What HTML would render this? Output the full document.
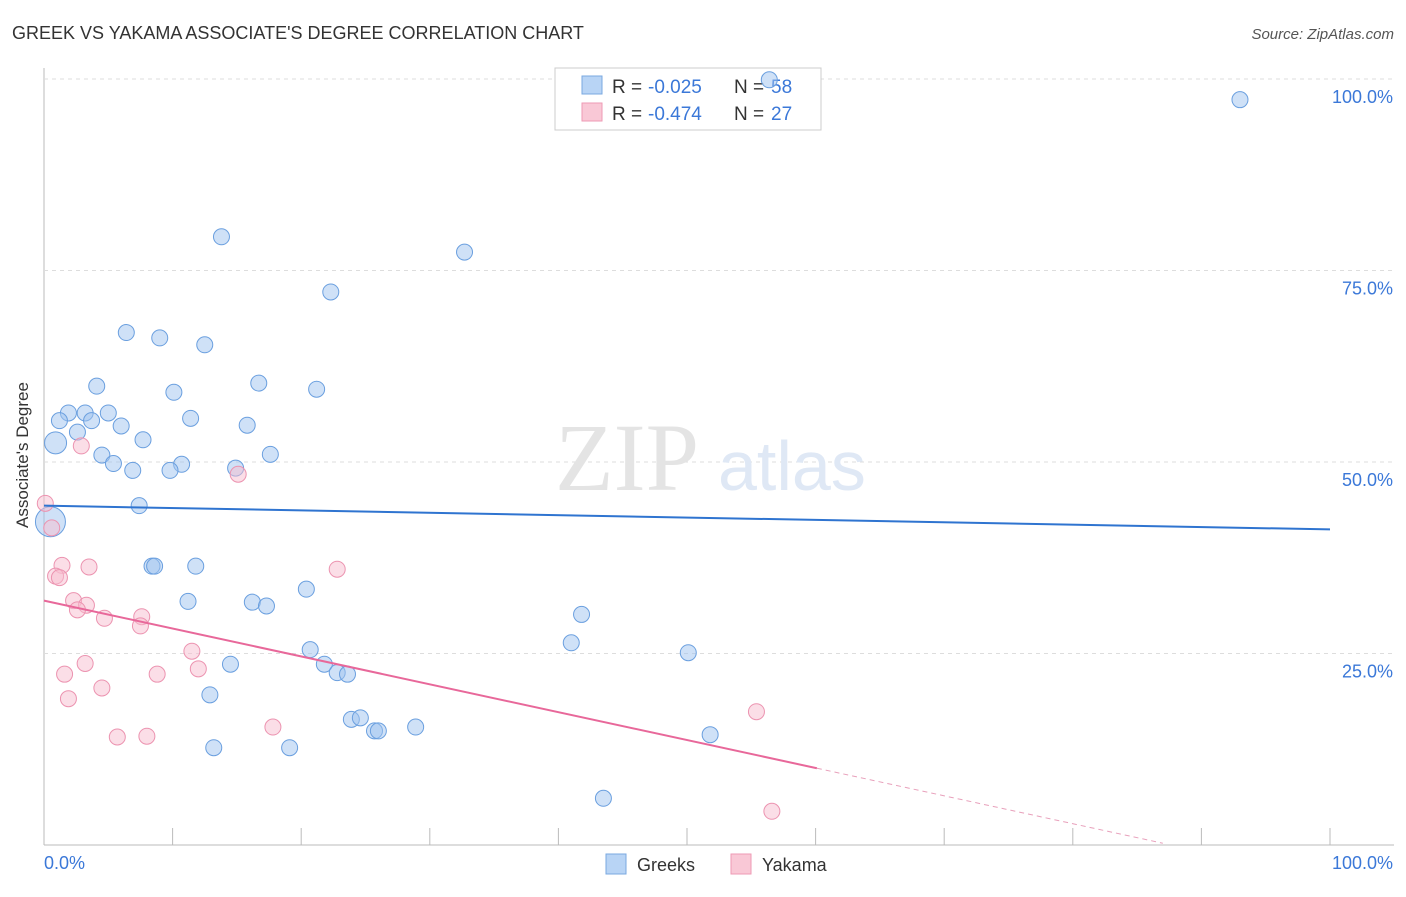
<!DOCTYPE html>
<html><head><meta charset="utf-8"><style>
body{margin:0;background:#fff;font-family:"Liberation Sans",sans-serif;}
</style></head><body>
<svg width="1406" height="892" xmlns="http://www.w3.org/2000/svg">
<text x="12" y="39" font-size="18" fill="#333">GREEK VS YAKAMA ASSOCIATE'S DEGREE CORRELATION CHART</text>
<text x="1394" y="39" font-size="15" fill="#555" font-style="italic" text-anchor="end">Source: ZipAtlas.com</text>
<g id="grid"></g>
<text x="555" y="490" font-size="96" fill="#e4e4e4" font-family="Liberation Serif">ZIP</text>
<text x="718" y="490" font-size="70" fill="#dfe8f5">atlas</text>
<g>
<rect x="555" y="68" width="266" height="62" fill="#fff" stroke="#ccc"/>
<rect x="582" y="76" width="20" height="18" fill="#b8d4f5" stroke="#7aa8e0"/>
<rect x="582" y="103" width="20" height="18" fill="#f9c8d6" stroke="#ee9ab4"/>
<text x="612" y="93" font-size="19" fill="#333">R = </text><text x="648" y="93" font-size="19" fill="#3b78d8">-0.025</text>
<text x="734" y="93" font-size="19" fill="#333">N = </text><text x="771" y="93" font-size="19" fill="#3b78d8">58</text>
<text x="612" y="120" font-size="19" fill="#333">R = </text><text x="648" y="120" font-size="19" fill="#3b78d8">-0.474</text>
<text x="734" y="120" font-size="19" fill="#333">N = </text><text x="771" y="120" font-size="19" fill="#3b78d8">27</text>
</g>
<g id="pts"></g>
<g id="lines"></g>
<text x="28" y="455" font-size="17" fill="#333" text-anchor="middle" transform="rotate(-90 28 455)">Associate's Degree</text>
<text x="44" y="869" font-size="18" fill="#3b78d8">0.0%</text>
<text x="1393" y="869" font-size="18" fill="#3b78d8" text-anchor="end">100.0%</text>
<g>
<rect x="606" y="854" width="20" height="20" fill="#b8d4f5" stroke="#7aa8e0"/>
<text x="637" y="871" font-size="18" fill="#333">Greeks</text>
<rect x="731" y="854" width="20" height="20" fill="#f9c8d6" stroke="#ee9ab4"/>
<text x="762" y="871" font-size="18" fill="#333">Yakama</text>
</g>
</svg>
<script>
const yTicks=[25,50,75,100];
const yTickLabels=["25.0%","50.0%","75.0%","100.0%"];
const greekX=[56.4,93.0,13.8,32.7,22.3,6.4,9.0,12.5,4.1,16.7,10.1,21.2,1.9,3.2,5.0,1.2,3.7,6.0,11.4,15.8,2.6,7.7,0.9,4.5,17.6,5.4,10.7,6.9,9.8,14.9,7.4,0.5,8.4,8.6,11.8,20.4,11.2,16.2,17.3,41.8,41.0,20.7,50.1,21.8,14.5,22.8,23.6,12.9,23.9,24.6,25.7,26.0,28.9,51.8,13.2,19.1,43.5];
const greekY=[99.9,97.3,79.4,77.4,72.2,66.9,66.2,65.3,59.9,60.3,59.1,59.5,56.4,56.4,56.4,55.4,55.4,54.7,55.7,54.8,53.9,52.9,52.5,50.9,51.0,49.8,49.7,48.9,48.9,49.2,44.3,42.2,36.4,36.4,36.4,33.4,31.8,31.7,31.2,30.1,26.4,25.5,25.1,23.6,23.6,22.5,22.3,19.6,16.4,16.6,14.9,14.9,15.4,14.4,12.7,12.7,6.1];
const greekR=[8,8,8,8,8,8,8,8,8,8,8,8,8,8,8,8,8,8,8,8,8,8,11,8,8,8,8,8,8,8,8,15,8,8,8,8,8,8,8,8,8,8,8,8,8,8,8,8,8,8,8,8,8,8,8,8,8];
const yakX=[0.1,0.6,2.9,15.1,1.4,3.5,0.9,1.2,2.3,3.3,2.6,7.6,4.7,7.5,22.8,11.5,3.2,12.0,1.6,8.8,4.5,1.9,17.8,5.7,8.0,55.4,56.6];
const yakY=[44.6,41.4,52.1,48.4,36.5,36.3,35.1,34.9,31.9,31.3,30.7,29.8,29.6,28.6,36.0,25.3,23.7,23.0,22.3,22.3,20.5,19.1,15.4,14.1,14.2,17.4,4.4];
const greekLine=[44.3,41.2];
const yakLine=[31.9,-4.5];
const NS="http://www.w3.org/2000/svg";
const X=v=>44+v*12.86, Y=v=>845-v*7.66;
function mk(t,a,p){const e=document.createElementNS(NS,t);for(const k in a)e.setAttribute(k,a[k]);p.appendChild(e);return e;}
const grid=document.getElementById('grid');
mk('line',{x1:44,y1:68,x2:44,y2:845,stroke:'#bbb'},grid);
mk('line',{x1:44,y1:845,x2:1394,y2:845,stroke:'#bbb'},grid);
for(let i=0;i<=10;i++){const l=mk('line',{x1:X(i*10),y1:828,x2:X(i*10),y2:845,stroke:'#bbb'},grid);

}
yTicks.forEach((t,i)=>{const g=mk('line',{x1:44,y1:Y(t),x2:1394,y2:Y(t),stroke:'#ddd','stroke-dasharray':'4,4'},grid);


const tx=mk('text',{x:1393,y:Y(t)+24,'font-size':18,fill:'#3b78d8','text-anchor':'end'},grid);tx.textContent=yTickLabels[i];

});
const pts=document.getElementById('pts');
greekX.forEach((x,i)=>{const c=mk('circle',{cx:X(x),cy:Y(greekY[i]),r:greekR[i],fill:'rgba(160,196,240,0.5)',stroke:'#6a9fdf','stroke-width':1},pts);

});
yakX.forEach((x,i)=>{const c=mk('circle',{cx:X(x),cy:Y(yakY[i]),r:8,fill:'rgba(248,190,208,0.5)',stroke:'#ec93b0','stroke-width':1},pts);

});
const ln=document.getElementById('lines');
const b=mk('line',{x1:X(0),y1:Y(greekLine[0]),x2:X(100),y2:Y(greekLine[1]),stroke:'#2f74d0','stroke-width':2},ln);


const f=v=>yakLine[0]+(yakLine[1]-yakLine[0])*v/100;
const p1=mk('line',{x1:X(0),y1:Y(f(0)),x2:X(60.1),y2:Y(f(60.1)),stroke:'#e8689a','stroke-width':2},ln);


const p2=mk('line',{x1:X(60.1),y1:Y(f(60.1)),x2:X(87.0),y2:Y(f(87.0)),stroke:'#e8a0bb','stroke-width':1,'stroke-dasharray':'5,4'},ln);


</script>
</body></html>
